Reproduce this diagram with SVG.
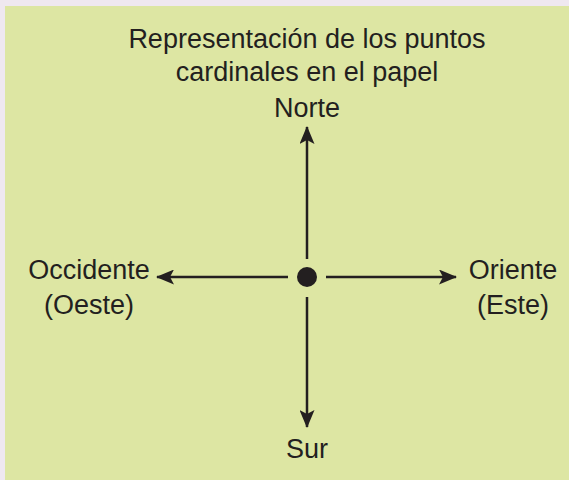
<svg xmlns="http://www.w3.org/2000/svg" width="569" height="480" viewBox="0 0 569 480">
  <defs>
    <style>
      .t { font-family: "Liberation Sans", Arial, sans-serif; font-size: 27px; fill: #231f20; }
      .m { text-anchor: middle; }
      .ln { stroke: #231f20; stroke-width: 2.5; fill: none; }
    </style>
    <marker id="ah" viewBox="0 0 18 15" refX="17" refY="7.5" markerWidth="18" markerHeight="15" markerUnits="userSpaceOnUse" orient="auto">
      <path d="M0,0 L18,7.5 L0,15 L4,7.5 Z" fill="#231f20"/>
    </marker>
  </defs>
  <rect x="0" y="0" width="569" height="480" fill="#efe8f0"/>
  <rect x="5" y="6" width="564" height="474" fill="#dde6a3"/>

  <g id="title">
    <text class="t m" x="307" y="48">Representación de los puntos</text>
    <text class="t m" x="307" y="81">cardinales en el papel</text>
  </g>

  <g id="connectors">
    <line class="ln" x1="307" y1="259" x2="307" y2="127" marker-end="url(#ah)"/>
    <line class="ln" x1="307" y1="297" x2="307" y2="427" marker-end="url(#ah)"/>
    <line class="ln" x1="288" y1="277" x2="157" y2="277" marker-end="url(#ah)"/>
    <line class="ln" x1="326" y1="277" x2="456" y2="277" marker-end="url(#ah)"/>
  </g>

  <g id="center">
    <circle cx="307" cy="277" r="10" fill="#231f20"/>
  </g>
  <g id="norte">
    <text class="t m" x="307" y="117">Norte</text>
  </g>
  <g id="sur">
    <text class="t m" x="307" y="458">Sur</text>
  </g>
  <g id="occidente">
    <text class="t m" x="89" y="279">Occidente</text>
    <text class="t m" x="89" y="314">(Oeste)</text>
  </g>
  <g id="oriente">
    <text class="t m" x="513" y="279">Oriente</text>
    <text class="t m" x="513" y="314">(Este)</text>
  </g>
</svg>
